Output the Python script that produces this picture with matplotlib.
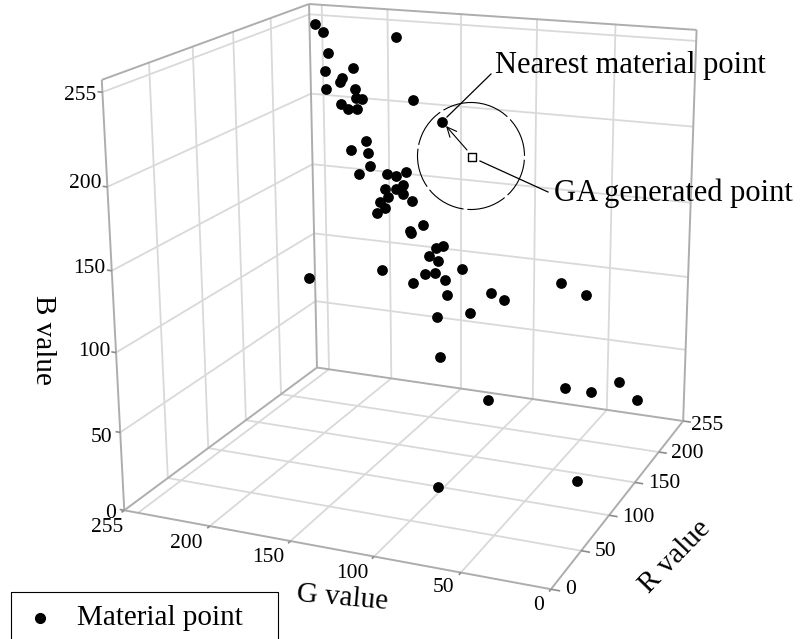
import numpy as np
import matplotlib
matplotlib.use("Agg")
import matplotlib.pyplot as plt
from matplotlib.patches import Circle, FancyArrowPatch, Rectangle
from matplotlib.lines import Line2D
from matplotlib.transforms import Affine2D

W, H = 801, 639
plt.rcParams['font.family'] = ['Liberation Serif', 'DejaVu Serif']

# Material points
G_values = [239,242,237,238,217,225,222,241,219,217,212,225,219,211,191,179,158,
            209,218,205,202,218,197,189,181,182,193,193,197,185,178,199,194,198,183,181,171,
            156,160,163,156,146,201,253,161,167,174,159,156,125,115,137,158,155,80,62,74,56,37,24,110,99,28]
R_values = [230,247,244,241,238,235,232,249,246,243,240,237,234,231,248,245,242,
            239,236,233,230,247,244,241,238,235,232,249,246,243,240,237,234,231,248,245,242,
            239,236,233,230,247,244,241,238,235,232,249,246,243,240,237,234,231,248,245,242,239,236,233,200,89,128]
B_values = [254,245,232,220,224,215,218,206,208,203,203,199,197,198,245,204,192,
            175,168,168,160,149,152,152,156,148,145,140,135,139,136,134,131,128,112,112,119,
            107,106,101,99,90,83,72,88,87,81,80,70,77,74,63,58,31,88,83,17,18,29,19,18,5,5]
# GA generated point
GA_point = [135, 235, 172]

B_ticks = [0, 50, 100, 150, 200, 255]
G_ticks = [0, 50, 100, 150, 200, 255]
R_ticks = [0, 50, 100, 150, 200, 255]

# Camera calibration: axis positions -> pixels
calib = np.array([
 (255,0,0,125,512),(200,0,0,210,527),(150,0,0,290,542),(100,0,0,373,557),(50,0,0,460,572),(0,0,0,550,588),
 (0,50,0,582,551),(0,100,0,610,515),(0,150,0,635,483),(0,200,0,658,452),(0,255,0,682,422),
 (255,255,0,315,370),(200,255,0,392,378),(150,255,0,460,387),(100,255,0,533,398),(50,255,0,607,410),
 (255,50,0,168,478),(255,100,0,210,448),(255,150,0,247,420),(255,200,0,282,395),
 (255,0,50,120,433),(255,0,100,116,352),(255,0,150,112,268),(255,0,200,107,184),(255,0,255,102,95),
 (255,255,50,315,300),(255,255,100,315,233),(255,255,150,313,163),(255,255,200,310,92),(255,255,255,308,17),
 (0,255,200,695,125),(0,255,255,697,43)], float)
A=[];b=[]
for g,r,bl,x,y in calib:
    A.append([g,r,bl,1,0,0,0,0,-x*g,-x*r,-x*bl]); b.append(x)
    A.append([0,0,0,0,g,r,bl,1,-y*g,-y*r,-y*bl]); b.append(y)
p=np.linalg.lstsq(np.array(A),np.array(b),rcond=None)[0]
P=np.array([p[:4],p[4:8],[p[8],p[9],p[10],1.0]])
M=np.array([P[0],P[1],[1/510,1/510,0,0],P[2]])

fig=plt.figure(figsize=(W/100,H/100),dpi=100)
ax=fig.add_axes([0,0,1,1],projection='3d')
ax.apply_aspect=lambda position=None: None
ax.set_proj_type('ortho')
ax.computed_zorder=False
ax.set_axis_off()
ax.set_xlim(0,255);ax.set_ylim(0,255);ax.set_zlim(0,270)
def gp():
    ax._viewLim.set_points(np.array([[0,H],[W,0]],float))
    return M
ax.get_proj=gp
pxt=Affine2D().scale(1,-1).translate(0,H)

GRID='#d9d9d9'; FR='#adadad'; TK='#8c8c8c'
TOP=262
def l3(a,b,c=GRID,lw=1.3):
    ax.plot([a[0],b[0]],[a[1],b[1]],[a[2],b[2]],color=c,lw=lw,zorder=2,solid_capstyle='butt')
inner=[t for t in G_ticks if 0<t<255]
for t in inner+[246]:
    l3((t,0,0),(t,255,0)); l3((t,255,0),(t,255,TOP))
for t in inner:
    l3((0,t,0),(255,t,0)); l3((255,t,0),(255,t,TOP))
    l3((255,0,t),(255,255,t)); l3((255,255,t),(0,255,t))
l3((255,0,255),(255,255,255)); l3((255,255,255),(0,255,255))
for a,bb in [((0,0,0),(255,0,0)),((0,0,0),(0,255,0)),((255,0,0),(255,255,0)),((0,255,0),(255,255,0)),
             ((255,0,0),(255,0,TOP)),((0,255,0),(0,255,TOP)),((255,255,0),(255,255,TOP)),
             ((255,0,TOP),(255,255,TOP)),((255,255,TOP),(0,255,TOP))]:
    l3(a,bb,FR,1.4)
# short tick marks
for t in B_ticks:
    l3((255,0,t),(258,0,t),TK,1.2)
for t in G_ticks:
    l3((t,0,0),(t,-3,0),TK,1.2)
for t in R_ticks:
    l3((0,t,0),(-5,t,0),TK,1.2)

ax.scatter(G_values,R_values,B_values,s=60,c='black',depthshade=False,zorder=5,linewidths=0)
ax.scatter([GA_point[0]],[GA_point[1]],[GA_point[2]],marker='s',s=36,facecolor='white',edgecolor='black',linewidths=1,depthshade=False,zorder=6)

def T(x,y,s,size=15.5,rot=0):
    fig.text(x/W,1-y/H,s,fontsize=size,ha='center',va='center',rotation=rot,rotation_mode='anchor')
for (x,y),s in zip([(111,513),(102,437),(94,352),(89,268),(85,183),(80,95)],B_ticks): T(x,y,str(s))
for (x,y),s in zip([(539,605),(444,588),(352,573),(268,557),(186,543),(107,528)],G_ticks): T(x,y,str(s))
for (x,y),s in zip([(571,589),(606,552),(638,517),(664,484),(687,453),(707,425)],R_ticks): T(x,y,str(s))
T(43,340,'B value',21,-90)
T(342,598,'G value',21,-5)
T(675,557,'R value',21,46)
T(630,66,'Nearest material point',22)
T(673,193,'GA generated point',22)

fig.add_artist(Circle((471,156),53.5,transform=pxt,fill=False,ec='black',lw=0.8,ls=(0,(36,3.5))))
fig.add_artist(Line2D([491,447],[74,117],transform=pxt,color='black',lw=0.9))
fig.add_artist(Line2D([480,548],[161,192],transform=pxt,color='black',lw=0.9))
fig.add_artist(FancyArrowPatch((467,150),(446,126),transform=pxt,arrowstyle='->,head_length=3.5,head_width=1.6',mutation_scale=2,color='black',lw=0.8,shrinkA=0,shrinkB=0))
fig.add_artist(Rectangle((11,592),267,60,transform=pxt,fill=False,ec='black',lw=0.8))
fig.add_artist(Line2D([40],[618],transform=pxt,marker='o',ms=7,color='black',ls=''))
fig.text(160/W,1-618/H,'Material point',fontsize=21,ha='center',va='center')
fig.savefig('out.png',dpi=100)
